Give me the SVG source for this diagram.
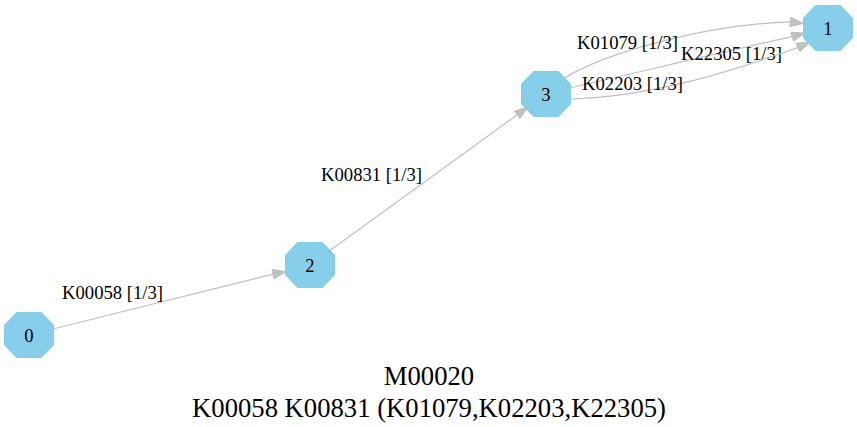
<svg xmlns="http://www.w3.org/2000/svg" width="857" height="427" viewBox="0 0 857 427">
<style>
.node polygon{fill:#87ceeb;stroke:none}
.node text,.elabel{font-family:"Liberation Serif","Times New Roman",serif;font-size:18.67px;fill:#000}
.node text{text-anchor:middle}
.edge path{fill:none;stroke:#c0c0c0;stroke-width:1.2}
.edge polygon{fill:#c0c0c0;stroke:#c0c0c0;stroke-width:1}
.title{font-family:"Liberation Serif","Times New Roman",serif;font-size:26.67px;text-anchor:middle;fill:#000}
</style>
<defs>
<polygon id="oct" points="-12.5,-23 12.5,-23 25,-10 25,10 12.5,23 -12.5,23 -25,10 -25,-10"/>
</defs>
<rect width="857" height="427" fill="#fff"/>
<g id="edges" class="edge">
<g id="e0_2">
<path d="M53,329 L273.1,274.2"/>
<polygon points="286,271.5 274.2,278.8 272,269.6"/>
<text class="elabel" x="62" y="299">K00058 [1/3]</text>
</g>
<g id="e2_3">
<path d="M330,250.5 L517.2,114.8"/>
<polygon points="528,107 519.9,118.6 514.4,111"/>
<text class="elabel" x="321" y="181">K00831 [1/3]</text>
</g>
<g id="e3_1a">
<path d="M563,79 C600,55 700,25 790.3,21.9"/>
<polygon points="803.5,23.5 789.7,26.6 790.9,17.2"/>
<text class="elabel" x="577" y="48.5">K01079 [1/3]</text>
</g>
<g id="e3_1b">
<path d="M570,88 C640,72 730,50 792.2,36.7"/>
<polygon points="805,33 793.5,41.2 790.9,32.2"/>
<text class="elabel" x="681" y="60">K22305 [1/3]</text>
</g>
<g id="e3_1c">
<path d="M570,99 C650,97 730,72 797.9,47.5"/>
<polygon points="810,42 799.9,51.8 795.9,43.2"/>
<text class="elabel" x="582" y="90">K02203 [1/3]</text>
</g>
</g>
<g id="node0" class="node"><use href="#oct" x="29" y="335" fill="#87ceeb"/><text x="29" y="341.5">0</text></g>
<g id="node2" class="node"><use href="#oct" x="310" y="265" fill="#87ceeb"/><text x="310" y="271.5">2</text></g>
<g id="node3" class="node"><use href="#oct" x="546" y="94" fill="#87ceeb"/><text x="546" y="100.5">3</text></g>
<g id="node1" class="node"><use href="#oct" x="828" y="28" fill="#87ceeb"/><text x="828" y="34.5">1</text></g>
<g id="title">
<text class="title" x="429" y="385">M00020</text>
<text class="title" x="429" y="417">K00058 K00831 (K01079,K02203,K22305)</text>
</g>
</svg>
